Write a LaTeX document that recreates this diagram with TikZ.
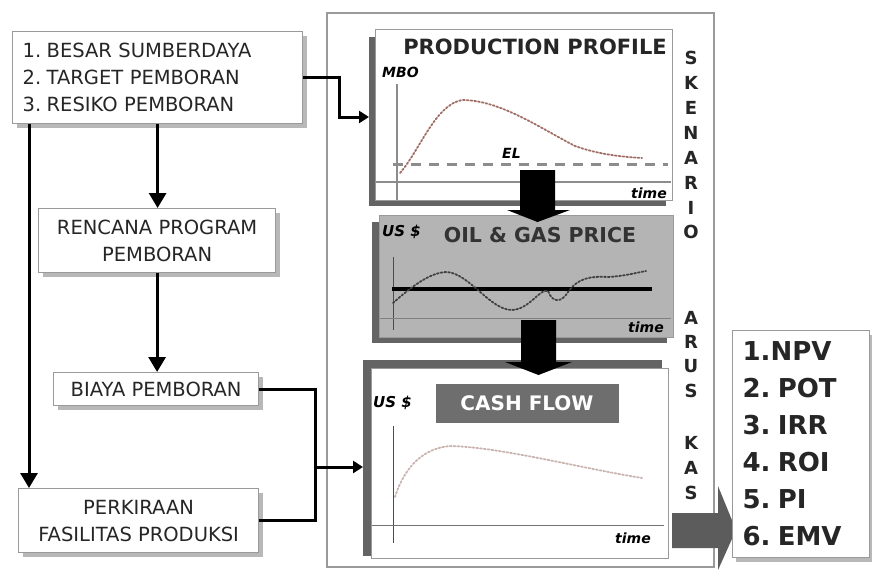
\documentclass[tikz,border=0pt]{standalone}
\usepackage{fontspec}
\setmainfont{DejaVu Sans}
\usetikzlibrary{arrows.meta,shadows}
\definecolor{ink}{HTML}{262626}
\definecolor{frame}{HTML}{9A9A9A}
\definecolor{panelshadow}{HTML}{646464}
\definecolor{pricefill}{HTML}{B4B4B4}
\definecolor{cashbar}{HTML}{6E6E6E}
\definecolor{prodcurve}{HTML}{A06E64}
\definecolor{cashcurve}{HTML}{C9B4B0}
\definecolor{bigarrow}{HTML}{5C5C5C}
\definecolor{axisgray}{HTML}{8C8C8C}
\newcommand{\numgap}{\hspace{0.28em}}

\begin{document}
\begin{tikzpicture}[x=1pt,y=-1pt,
  flowbox/.style={draw=frame, line width=1.2pt, fill=white, text=ink, inner sep=0pt,
    anchor=north west, align=center,
    font=\fontsize{19.5}{27}\selectfont,
    drop shadow={shadow xshift=4pt, shadow yshift=-4pt, fill=black!28, opacity=1}},
  panel/.style={draw=frame, line width=1pt, fill=white, inner sep=0pt, anchor=north west},
  conn/.style={line width=3pt, draw=black},
  arr/.style={conn, -{Triangle[width=17pt,length=15pt]}},
  sarr/.style={conn, -{Triangle[width=12pt,length=10pt]}},
  axislbl/.style={font=\bfseries\itshape\fontsize{14}{14}\selectfont, text=black, inner sep=0pt},
  vletter/.style={font=\bfseries\fontsize{18}{18}\selectfont, text=ink, inner sep=0pt},
  blockarrow/.style={fill=black}
]
\useasboundingbox (0,0) rectangle (872,570);
\fill[white] (0,0) rectangle (872,570);

% outer scenario frame
\draw[frame, line width=1.2pt] (327,13) rectangle (714,567);

% ---------------- left flow chart ----------------
\node[flowbox, minimum width=290pt, minimum height=92pt, text width=270pt, align=left] (b1) at (12,31)
  {1.\numgap BESAR SUMBERDAYA\\2.\numgap TARGET PEMBORAN\\3.\numgap RESIKO PEMBORAN};
\node[flowbox, minimum width=237pt, minimum height=64pt] (b2) at (38,208)
  {RENCANA PROGRAM\\PEMBORAN};
\node[flowbox, minimum width=205pt, minimum height=33pt] (b3) at (53,372)
  {BIAYA PEMBORAN};
\node[flowbox, minimum width=240pt, minimum height=64pt] (b4) at (18,488)
  {PERKIRAAN\\FASILITAS PRODUKSI};

\draw[arr] (b1.south) -- (b1.south |- b2.north);
\draw[arr] (b2.south) -- (b2.south |- b3.north);
\draw[arr] ([xshift=17pt]b1.south west) -- ([xshift=17pt]b1.south west |- b4.north);

% ---------------- production profile ----------------
\fill[panelshadow] (369,37) rectangle (666,206);
\node[panel, minimum width=297pt, minimum height=171pt] (prod) at (375,29) {};
\node[font=\bfseries\fontsize{21}{21}\selectfont, text=ink, inner sep=0pt] (prodtitle) at (535,47) {PRODUCTION PROFILE};
\draw[axisgray, line width=1.2pt] (397,84) -- (397,200);
\draw[axisgray, line width=1.2pt] (376,182) -- (671,182);
\draw[black!45, line width=3pt, dash pattern=on 10pt off 8pt] (393,164) -- (668,164);
\draw[prodcurve, line width=1.8pt, dotted, line cap=round]
  (400,173) .. controls (420,150) and (435,105) .. (462,100)
  .. controls (500,100) and (540,128) .. (575,146)
  .. controls (600,155) and (625,157) .. (642,158);
\node[axislbl, anchor=west] (mbo) at (382,72) {MBO};
\node[axislbl, anchor=west] (el) at (502,153) {EL};
\node[axislbl, anchor=east] (t1) at (667,193) {time};

% ---------------- oil & gas price ----------------
\fill[panelshadow] (372,222) rectangle (667,343);
\node[panel, fill=pricefill, minimum width=294pt, minimum height=122pt] (price) at (379,215) {};
\node[axislbl, anchor=west, font=\bfseries\itshape\fontsize{15}{15}\selectfont] (usp) at (382,232) {US \$};
\node[font=\bfseries\fontsize{20.5}{20.5}\selectfont, text=black!80, inner sep=0pt] (pricetitle) at (540,235) {OIL \& GAS PRICE};
\draw[black!70, line width=1pt] (393,257) -- (393,330);
\draw[black!50, line width=1pt] (380,318) -- (671,318);
\draw[black, line width=4pt] (392,289) -- (652,289);
\draw[black!75, line width=1.8pt, dotted, line cap=round]
  (393,303) .. controls (410,288) and (430,272) .. (447,272)
  .. controls (470,274) and (490,310) .. (512,310)
  .. controls (530,309) and (540,288) .. (548,291)
  .. controls (553,304) and (562,302) .. (568,292)
  .. controls (578,278) and (590,276) .. (608,277)
  .. controls (625,276) and (635,273) .. (646,271);
\node[axislbl, anchor=east] (t2) at (664,327) {time};

% ---------------- cash flow ----------------
\fill[panelshadow] (363,360) rectangle (662,556);
\node[panel, minimum width=297pt, minimum height=190pt] (cash) at (371,368) {};
\node[fill=cashbar, minimum width=183pt, minimum height=39pt, inner sep=0pt, text=white,
  font=\bfseries\fontsize{20}{20}\selectfont] (cashtitle) at (527,403) {CASH FLOW};
\node[axislbl, anchor=west, font=\bfseries\itshape\fontsize{15}{15}\selectfont] (usc) at (373,403) {US \$};
\draw[black!70, line width=1pt] (393,426) -- (393,543);
\draw[black!55, line width=1pt] (372,525) -- (664,525);
\draw[cashcurve, line width=1.8pt, dotted, line cap=round]
  (395,497) .. controls (405,465) and (425,448) .. (450,446)
  .. controls (500,447) and (580,468) .. (642,478);
\node[axislbl, anchor=east] (t3) at (651,538) {time};

% ---------------- block arrows between panels ----------------
\fill[blockarrow] (520,170) -- (555,170) -- (555,210) -- (570,210) -- (537.5,222)
  -- (507,210) -- (520,210) -- cycle;
\fill[blockarrow] (521,320) -- (556,320) -- (556,362) -- (572,362) -- (538.5,375)
  -- (505,362) -- (521,362) -- cycle;

% ---------------- connectors into the scenario ----------------
\coordinate (prodin) at (369,117);
\draw[sarr] (b1.east) -- ++(36,0) |- (prodin);
\coordinate (join) at (315,467);
\coordinate (cashin) at (363,467);
\draw[conn] (b3.east) -| (join);
\draw[conn] (b4.east) -| (join);
\draw[sarr] (join) -- (cashin);

% ---------------- vertical caption ----------------
\foreach \ch/\yy [count=\i] in {S/58,K/83,E/108,N/133,A/158,R/183,I/208,O/232,
                                A/318,R/342,U/366,S/391,K/443,A/468,S/493}
  \node[vletter] (cap\i) at (691,\yy) {\ch};

% ---------------- result indicators ----------------
\fill[bigarrow] (672,513) -- (718,513) -- (718,486) -- (736,530) -- (718,570) -- (718,548) -- (672,548) -- cycle;
\node[panel, line width=1.2pt, minimum width=137pt, minimum height=227pt, text width=117pt, align=left,
  text=ink, font=\bfseries\fontsize{26}{37}\selectfont,
  drop shadow={shadow xshift=3pt, shadow yshift=-4pt, fill=black!28, opacity=1}] (res) at (732,330)
  {1.NPV\\2.\numgap POT\\3.\numgap IRR\\4.\numgap ROI\\5.\numgap PI\\6.\numgap EMV};
\end{tikzpicture}
\end{document}
